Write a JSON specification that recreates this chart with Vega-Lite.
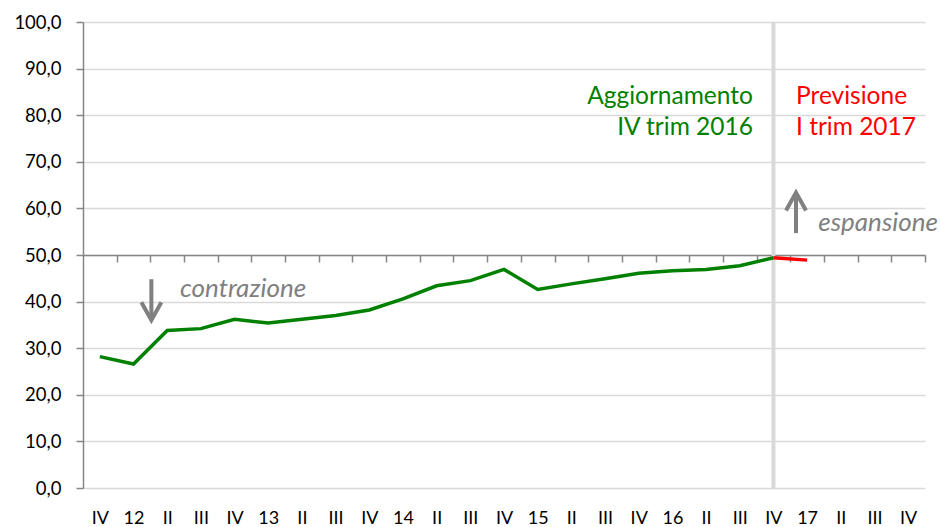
{
  "$schema": "https://vega.github.io/schema/vega-lite/v6.json",
  "width": 842,
  "height": 466,
  "autosize": "none",
  "padding": {"left": 83, "top": 22, "right": 15, "bottom": 39},
  "background": "white",
  "config": {"view": {"stroke": null}, "font": "Lato"},
  "datasets": {
    "series": [
      {"i": 0, "v": 28.2, "s": "g"},
      {"i": 1, "v": 26.6, "s": "g"},
      {"i": 2, "v": 33.8, "s": "g"},
      {"i": 3, "v": 34.2, "s": "g"},
      {"i": 4, "v": 36.2, "s": "g"},
      {"i": 5, "v": 35.4, "s": "g"},
      {"i": 6, "v": 36.2, "s": "g"},
      {"i": 7, "v": 37.0, "s": "g"},
      {"i": 8, "v": 38.2, "s": "g"},
      {"i": 9, "v": 40.6, "s": "g"},
      {"i": 10, "v": 43.4, "s": "g"},
      {"i": 11, "v": 44.5, "s": "g"},
      {"i": 12, "v": 46.9, "s": "g"},
      {"i": 13, "v": 42.6, "s": "g"},
      {"i": 14, "v": 43.8, "s": "g"},
      {"i": 15, "v": 44.9, "s": "g"},
      {"i": 16, "v": 46.1, "s": "g"},
      {"i": 17, "v": 46.6, "s": "g"},
      {"i": 18, "v": 46.9, "s": "g"},
      {"i": 19, "v": 47.7, "s": "g"},
      {"i": 20, "v": 49.4, "s": "g"},
      {"i": 20, "v": 49.4, "s": "r"},
      {"i": 21, "v": 48.9, "s": "r"}
    ],
    "divider": [{"i": 20}]
  },
  "resolve": {"axis": {"x": "independent", "y": "independent"}},
  "layer": [
    {
      "data": {"name": "divider"},
      "mark": {"type": "rule", "color": "#d9d9d9", "strokeWidth": 4},
      "encoding": {
        "x": {
          "field": "i", "type": "quantitative",
          "scale": {"domain": [-0.5, 24.5], "nice": false, "zero": false},
          "axis": {
            "orient": "bottom",
            "title": null,
            "values": [0,1,2,3,4,5,6,7,8,9,10,11,12,13,14,15,16,17,18,19,20,21,22,23,24],
            "labelExpr": "['IV','12','II','III','IV','13','II','III','IV','14','II','III','IV','15','II','III','IV','16','II','III','IV','17','II','III','IV'][datum.value]",
            "ticks": false, "domain": false, "grid": false,
            "labelFontSize": 18, "labelColor": "#000000", "labelPadding": 21,
            "labelOverlap": false, "labelFlush": false
          }
        }
      }
    },
    {
      "data": {"name": "series"},
      "mark": {"type": "line", "strokeWidth": 3.5},
      "encoding": {
        "x": {
          "field": "i", "type": "quantitative",
          "scale": {"domain": [-0.5, 24.5], "nice": false, "zero": false},
          "axis": {
            "orient": "bottom", "offset": -233, "title": null,
            "values": [0.5,1.5,2.5,3.5,4.5,5.5,6.5,7.5,8.5,9.5,10.5,11.5,12.5,13.5,14.5,15.5,16.5,17.5,18.5,19.5,20.5,21.5,22.5,23.5,24.5],
            "labels": false, "grid": false,
            "domainColor": "#868686", "domainWidth": 1.5,
            "tickColor": "#868686", "tickSize": 7, "tickWidth": 1.5
          }
        },
        "y": {
          "field": "v", "type": "quantitative",
          "scale": {"domain": [0, 100], "nice": false},
          "axis": {
            "orient": "left",
            "title": null,
            "values": [0,10,20,30,40,50,60,70,80,90,100],
            "labelExpr": "replace(format(datum.value, '.1f'), '.', ',')",
            "grid": true, "gridColor": "#d9d9d9", "gridWidth": 1.5,
            "domainColor": "#868686", "domainWidth": 1.5,
            "tickColor": "#868686", "tickSize": 7, "tickWidth": 1.5,
            "labelFontSize": 18.5, "labelColor": "#000000", "labelPadding": 15
          }
        },
        "color": {
          "field": "s", "type": "nominal",
          "scale": {"domain": ["g", "r"], "range": ["#008000", "#ff0000"]},
          "legend": null
        }
      }
    },
    {
      "data": {"values": [
        {"i": 19.39, "v": 83.9, "t": "Aggiornamento"},
        {"i": 19.39, "v": 77.3, "t": "IV trim 2016"}
      ]},
      "mark": {"type": "text", "align": "right", "baseline": "middle", "fontSize": 24.5, "color": "#008000"},
      "encoding": {
        "x": {"field": "i", "type": "quantitative", "axis": null},
        "y": {"field": "v", "type": "quantitative", "axis": null},
        "text": {"field": "t"}
      }
    },
    {
      "data": {"values": [
        {"i": 20.67, "v": 83.9, "t": "Previsione"},
        {"i": 20.67, "v": 77.3, "t": "I trim 2017"}
      ]},
      "mark": {"type": "text", "align": "left", "baseline": "middle", "fontSize": 24.5, "color": "#ff0000"},
      "encoding": {
        "x": {"field": "i", "type": "quantitative", "axis": null},
        "y": {"field": "v", "type": "quantitative", "axis": null},
        "text": {"field": "t"}
      }
    },
    {
      "data": {"values": [
        {"i": 2.38, "v": 42.7, "t": "contrazione"},
        {"i": 21.33, "v": 56.9, "t": "espansione"}
      ]},
      "mark": {"type": "text", "align": "left", "baseline": "middle", "fontSize": 26, "fontStyle": "italic", "color": "#808080"},
      "encoding": {
        "x": {"field": "i", "type": "quantitative", "axis": null},
        "y": {"field": "v", "type": "quantitative", "axis": null},
        "text": {"field": "t"}
      }
    },
    {
      "data": {"values": [
        {"i": 1.53, "v": 44.8, "v2": 36.0},
        {"i": 20.67, "v": 54.7, "v2": 63.4}
      ]},
      "mark": {"type": "rule", "color": "#808080", "strokeWidth": 4},
      "encoding": {
        "x": {"field": "i", "type": "quantitative", "axis": null},
        "y": {"field": "v", "type": "quantitative", "axis": null},
        "y2": {"field": "v2"}
      }
    },
    {
      "data": {"values": [{"i": 1.53, "v": 36.0}]},
      "mark": {"type": "point", "shape": "M-1,-1.8L0,0L1,-1.8", "size": 400, "filled": false, "stroke": "#808080", "strokeWidth": 4, "strokeJoin": "miter", "opacity": 1},
      "encoding": {
        "x": {"field": "i", "type": "quantitative", "axis": null},
        "y": {"field": "v", "type": "quantitative", "axis": null}
      }
    },
    {
      "data": {"values": [{"i": 20.67, "v": 63.4}]},
      "mark": {"type": "point", "shape": "M-1,1.8L0,0L1,1.8", "size": 400, "filled": false, "stroke": "#808080", "strokeWidth": 4, "strokeJoin": "miter", "opacity": 1},
      "encoding": {
        "x": {"field": "i", "type": "quantitative", "axis": null},
        "y": {"field": "v", "type": "quantitative", "axis": null}
      }
    }
  ]
}
